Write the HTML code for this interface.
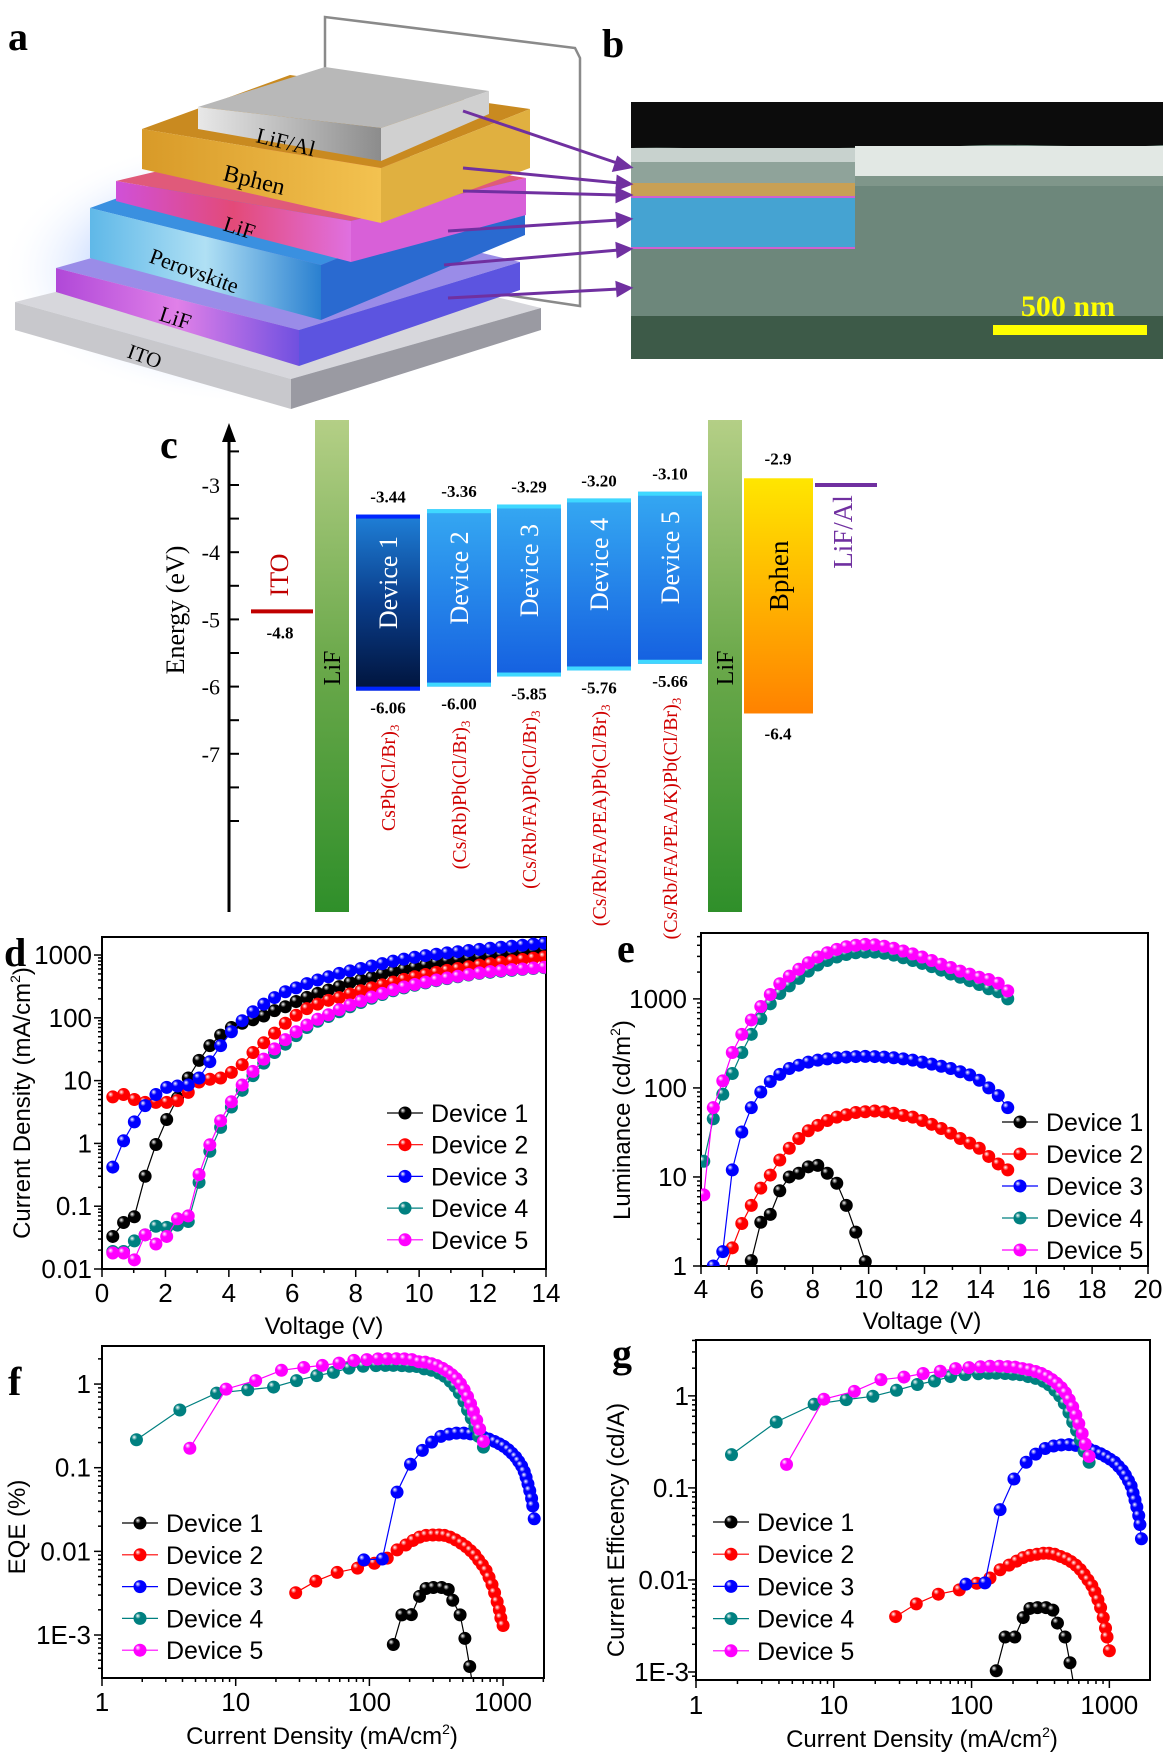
<!DOCTYPE html>
<html><head><meta charset="utf-8">
<style>
html,body{margin:0;padding:0;background:#fff;}
svg{display:block;}
text{font-family:"Liberation Sans",sans-serif;}
.serif{font-family:"Liberation Serif",serif;}
</style></head>
<body>
<svg id="fig" xmlns="http://www.w3.org/2000/svg" width="1170" height="1755" viewBox="0 0 1170 1755">
<defs>
<radialGradient id="glow" cx="50%" cy="50%" r="50%"><stop offset="0" stop-color="#3a6cff" stop-opacity="0.85"/><stop offset="0.6" stop-color="#6a9cff" stop-opacity="0.35"/><stop offset="1" stop-color="#ffffff" stop-opacity="0"/></radialGradient>
<linearGradient id="lifg" x1="0" y1="0" x2="0" y2="1"><stop offset="0" stop-color="#b4cf86"/><stop offset="0.5" stop-color="#6aa84a"/><stop offset="1" stop-color="#2f8f2a"/></linearGradient>
<linearGradient id="dev1g" x1="0" y1="0" x2="0" y2="1"><stop offset="0" stop-color="#1f80d8"/><stop offset="0.5" stop-color="#0a3d8a"/><stop offset="1" stop-color="#01143c"/></linearGradient>
<linearGradient id="devg" x1="0" y1="0" x2="0" y2="1"><stop offset="0" stop-color="#35a8f2"/><stop offset="1" stop-color="#1560e0"/></linearGradient>
<linearGradient id="bphg" x1="0" y1="0" x2="0" y2="1"><stop offset="0" stop-color="#ffe600"/><stop offset="1" stop-color="#ff8200"/></linearGradient>
<linearGradient id="alg" x1="0" y1="0" x2="1" y2="0"><stop offset="0" stop-color="#e8e8e8"/><stop offset="1" stop-color="#8c8c8c"/></linearGradient>
<linearGradient id="bphenf" x1="0" y1="0" x2="1" y2="0"><stop offset="0" stop-color="#d89a28"/><stop offset="1" stop-color="#f3c250"/></linearGradient>
<linearGradient id="liff" x1="0" y1="0" x2="1" y2="0"><stop offset="0" stop-color="#d050d8"/><stop offset="0.5" stop-color="#e34a78"/><stop offset="1" stop-color="#e070e0"/></linearGradient>
<linearGradient id="perf" x1="0" y1="0" x2="1" y2="0"><stop offset="0" stop-color="#5fb8e8"/><stop offset="0.5" stop-color="#b0e0f4"/><stop offset="1" stop-color="#2a80d0"/></linearGradient>
<linearGradient id="lif2f" x1="0" y1="0" x2="1" y2="0"><stop offset="0" stop-color="#b048d8"/><stop offset="0.5" stop-color="#e080e8"/><stop offset="1" stop-color="#7050e0"/></linearGradient>
</defs>

<!-- Panel a -->
<g>
<text class="serif" x="8" y="50" font-size="40" font-weight="bold">a</text>
<ellipse cx="260" cy="270" rx="260" ry="135" fill="url(#glow)"/>
<polyline points="325,106 325,17 575,48 580,58 580,306 466,289" fill="none" stroke="#8a8a8a" stroke-width="2.5"/>
<g>
<polygon points="15,302 291,379 541,308 265,240" fill="#d7d7dc"/>
<polygon points="15,302 291,379 291,409 15,330" fill="#c8c8cc"/>
<polygon points="291,379 541,308 541,330 291,409" fill="#9a9aa2"/>
</g>
<g>
<polygon points="56,268 299,330 520,262 280,205" fill="#9a8ce8"/>
<polygon points="56,268 299,330 299,366 56,292" fill="url(#lif2f)"/>
<polygon points="299,330 520,262 520,290 299,366" fill="#5c54e0"/>
</g>
<g>
<polygon points="90,208 321,265 525,182 300,132" fill="#3a90e0"/>
<polygon points="90,208 321,265 321,320 90,258" fill="url(#perf)"/>
<polygon points="321,265 525,182 525,235 321,320" fill="#2a6ad0"/>
</g>
<g>
<polygon points="116,181 351,221 526,178 290,140" fill="#e05a7a"/>
<polygon points="116,181 351,221 351,262 116,201" fill="url(#liff)"/>
<polygon points="351,221 526,178 526,215 351,262" fill="#d860d8"/>
</g>
<g>
<polygon points="142,129 381,168 530,109 290,75" fill="#c98a20"/>
<polygon points="142,129 381,168 381,223 142,169" fill="url(#bphenf)"/>
<polygon points="381,168 530,109 530,168 381,223" fill="#e0b040"/>
</g>
<g>
<polygon points="198,107 325,67 489,91 381,128" fill="#b8b8b8"/>
<polygon points="198,107 381,128 381,161 198,129" fill="url(#alg)"/>
<polygon points="381,128 489,91 489,114 381,161" fill="#d0d0d0"/>
</g>
<text class="serif" x="255" y="142" font-size="22" transform="rotate(14 255 142)">LiF/Al</text>
<text class="serif" x="222" y="180" font-size="24" transform="rotate(14 222 180)">Bphen</text>
<text class="serif" x="222" y="230" font-size="22" transform="rotate(18 222 230)">LiF</text>
<text class="serif" x="148" y="262" font-size="22" transform="rotate(20 148 262)">Perovskite</text>
<text class="serif" x="158" y="320" font-size="22" transform="rotate(18 158 320)">LiF</text>
<text class="serif" x="126" y="357" font-size="21" transform="rotate(20 126 357)">ITO</text>
</g>

<!-- Panel b -->
<g>
<text class="serif" x="602" y="57" font-size="40" font-weight="bold">b</text>
<rect x="631" y="102" width="532" height="257" fill="#6d877b"/>
<path d="M631,102 H1163 V145 C1100,150 1020,142 960,146 C900,150 860,145 800,150 C740,152 690,146 631,148 Z" fill="#0c0c0c"/>
<rect x="631" y="148" width="224" height="14" fill="#c8d2ce"/>
<rect x="855" y="146" width="308" height="30" fill="#e2e8e4"/>
<rect x="631" y="162" width="224" height="21" fill="#8fa39a"/>
<rect x="855" y="176" width="308" height="10" fill="#7f968a"/>
<rect x="631" y="183" width="224" height="13" fill="#c8a055"/>
<rect x="631" y="196" width="224" height="2" fill="#d060d0"/>
<rect x="631" y="198" width="224" height="50" fill="#45a3d2"/>
<rect x="631" y="247" width="224" height="2" fill="#d060d0"/>
<rect x="631" y="316" width="532" height="43" fill="#3d5a48"/>
<rect x="993" y="325" width="154" height="10" fill="#ffff00"/>
<text class="serif" x="1068" y="316" font-size="30" font-weight="bold" fill="#ffff00" text-anchor="middle">500 nm</text>
</g>
<g stroke="#7030a0" stroke-width="3" fill="#7030a0">
<line x1="463" y1="111" x2="620" y2="164"/><polygon points="630,167 614,170 618,158"/>
<line x1="463" y1="168" x2="619" y2="183"/><polygon points="630,184 617,189 618,177"/>
<line x1="463" y1="191" x2="619" y2="195"/><polygon points="630,195 617,201 617,189"/>
<line x1="448" y1="231" x2="619" y2="220"/><polygon points="630,219 618,226 617,214"/>
<line x1="444" y1="265" x2="619" y2="250"/><polygon points="630,249 618,256 617,244"/>
<line x1="448" y1="298" x2="619" y2="289"/><polygon points="630,288 618,295 617,283"/>
</g>

<!-- Panel c -->
<g id="panelC">
<text class="serif" x="160" y="458" font-size="40" font-weight="bold">c</text>
</g>

<g id="panelD"></g>
<g id="panelE"></g>
<g id="panelF"></g>
<g id="panelG"></g>
</svg>

<script>
// ---------- Panel c data ----------
const cLevels = [[-3.44,-6.06],[-3.36,-6.00],[-3.29,-5.85],[-3.20,-5.76],[-3.10,-5.66]];
const cTopLabels = ['-3.44','-3.36','-3.29','-3.20','-3.10'];
const cBotLabels = ['-6.06','-6.00','-5.85','-5.76','-5.66'];
const cFormulas = ['CsPb(Cl/Br)','(Cs/Rb)Pb(Cl/Br)','(Cs/Rb/FA)Pb(Cl/Br)','(Cs/Rb/FA/PEA)Pb(Cl/Br)','(Cs/Rb/FA/PEA/K)Pb(Cl/Br)'];
const cTicks = [-3,-4,-5,-6,-7];
const cBphen = [-2.9,-6.4];
const cITO = -4.88;
const cAl = -3.0;

// ---------- Panel d data (J-V) ----------
const dVolt = [0.34,0.68,1.02,1.36,1.70,2.04,2.38,2.72,3.06,3.40,3.74,4.08,4.42,4.76,5.10,5.44,5.78,6.12,6.46,6.80,7.14,7.48,7.82,8.16,8.50,8.84,9.18,9.52,9.86,10.20,10.54,10.88,11.22,11.56,11.90,12.24,12.58,12.92,13.26,13.60,13.94];
const dDev1 = [0.033,0.055,0.068,0.3,0.96,2.4,5.3,11,21,36,53,70,82,93,107,130,150,182,212,245,277,314,364,400,436,500,543,590,636,686,750,790,830,870,910,950,990,1050,1100,1150,1200];
const dDev2 = [5.5,6,5,4.5,4.5,4.5,4.8,6.5,9.5,10.5,11,13.5,18,28,40,57,82,110,140,165,190,210,240,270,300,335,370,410,450,490,530,570,610,650,690,730,770,810,850,890,930];
const dDev3 = [0.42,1.1,2.2,4,6,7.8,8.2,8.5,11,20,36,60,90,125,165,210,260,300,350,400,450,510,560,610,670,730,800,860,920,980,1030,1080,1130,1180,1230,1280,1330,1380,1430,1490,1550];
const dDev4 = [0.019,0.019,0.028,0.035,0.048,0.046,0.05,0.057,0.24,0.75,1.8,3.8,7,12,19,28,38,52,70,88,105,125,150,175,205,235,270,300,330,360,390,420,450,480,510,530,550,570,590,610,630];
const dDev5 = [0.018,0.018,0.014,0.035,0.025,0.033,0.063,0.07,0.32,0.95,2.3,4.6,8.5,14,22,32,45,60,77,95,112,135,160,185,215,245,280,310,340,370,400,430,460,490,520,545,565,585,600,620,640];
const dXTicks = [0,2,4,6,8,10,12,14];
const dYTicks = ['0.01','0.1','1','10','100','1000'];

// ---------- Panel e data (L-V) ----------
const eVolt = [4.10,4.44,4.78,5.12,5.46,5.80,6.14,6.48,6.82,7.16,7.50,7.84,8.18,8.52,8.86,9.20,9.54,9.88,10.22,10.56,10.90,11.24,11.58,11.92,12.26,12.60,12.94,13.28,13.62,13.96,14.30,14.64,14.98];
const eDev1 = [1.15,3.1,3.8,7,10,11,13,13.5,11,8.5,4.8,2.4,1.12];
const eDev2 = [0.8,1.6,3,4.8,7.5,10.5,15.5,21,27,33,38,43,47,50,53,54,55,54,52,49,47,43,39,35,31,27,24,21,17,14,12];
const eDev3 = [1.0,1.45,12,32,60,90,118,142,165,180,195,205,212,218,222,225,226,225,222,218,212,205,195,185,175,165,152,140,122,100,82,60];
const eDev4 = [15,45,85,145,250,400,600,880,1150,1400,1700,2050,2400,2700,2950,3150,3300,3350,3350,3250,3100,2900,2700,2500,2300,2100,1900,1750,1600,1450,1300,1200,1000];
const eDev5 = [6.3,60,120,250,400,580,820,1120,1480,1800,2150,2550,2950,3300,3600,3850,4000,4100,4050,3900,3700,3450,3200,2950,2700,2450,2250,2050,1900,1750,1650,1500,1230];
const eXTicks = [4,6,8,10,12,14,16,18,20];
const eYTicks = ['1','10','100','1000'];

// ---------- Panel f / g data ----------
const fJ1 = [151,175,206,237,265,301,347,389,420,477,518,563,589];
const fJ2 = [28.1,39.7,57.4,81.5,109,136,161,187,212,237,265,298,332,365,402,442,486,528,571,615,656,700,746,785,826,864,903,938,962,1000];
const fJ3 = [90.9,125,161,203,249,292,342,394,448,509,571,640,713,785,864,938,1013,1094,1165,1242,1307,1376,1439,1486,1535,1583,1634,1667,1709];
const fJ4 = [1.81,3.82,7.2,12.3,19.2,28.5,40.4,53.8,70.4,89.8,112,132,151,175,199,226,257,292,332,365,402,436,471,509,542,578,616,656,713];
const fJ5 = [4.54,8.47,14.1,22,32.3,44.5,59.3,76.5,95.7,116,136,159,183,208,234,262,292,321,353,384,415,448,480,511,542,571,600,635,668,713];
const fEQE1 = [0.00077,0.00174,0.00175,0.0029,0.0036,0.0037,0.0037,0.0035,0.0026,0.00174,0.00091,0.00042,0.00026];
const fEQE2 = [0.0032,0.0044,0.0056,0.0063,0.0072,0.0083,0.0104,0.0119,0.0135,0.0148,0.0155,0.0157,0.0157,0.0155,0.0148,0.0137,0.0125,0.0114,0.0102,0.0091,0.0079,0.0069,0.0059,0.0049,0.004,0.0032,0.0025,0.002,0.0016,0.0013];
const fEQE3 = [0.0079,0.0081,0.051,0.11,0.161,0.202,0.237,0.252,0.259,0.259,0.254,0.245,0.232,0.22,0.206,0.193,0.18,0.164,0.149,0.134,0.119,0.105,0.09,0.077,0.064,0.053,0.043,0.035,0.0245];
const fEQE4 = [0.216,0.49,0.78,0.855,0.92,1.1,1.26,1.38,1.55,1.63,1.66,1.67,1.67,1.66,1.63,1.62,1.52,1.46,1.35,1.24,1.08,0.94,0.78,0.62,0.49,0.39,0.31,0.237,0.176];
const fEQE5 = [0.171,0.87,1.1,1.46,1.58,1.67,1.78,1.92,1.96,2.0,2.01,2.01,2.0,1.96,1.85,1.83,1.75,1.66,1.54,1.42,1.29,1.16,1.01,0.855,0.71,0.58,0.47,0.37,0.29,0.206];
const gCE1 = [0.00103,0.0024,0.0024,0.0039,0.0049,0.005,0.005,0.0047,0.0034,0.0024,0.00126,0.0006,0.0004];
const gCE2 = [0.004,0.0055,0.007,0.0078,0.0092,0.0105,0.0129,0.0145,0.016,0.0175,0.0185,0.019,0.0195,0.0195,0.019,0.018,0.017,0.0158,0.0145,0.013,0.0115,0.01,0.0087,0.0074,0.0061,0.005,0.0039,0.003,0.0024,0.0017];
const gCE3 = [0.009,0.0093,0.058,0.125,0.19,0.233,0.268,0.285,0.293,0.295,0.29,0.28,0.265,0.25,0.235,0.22,0.205,0.19,0.172,0.155,0.138,0.12,0.105,0.088,0.074,0.062,0.05,0.04,0.028];
const gCE4 = [0.23,0.52,0.81,0.91,0.99,1.15,1.33,1.45,1.62,1.70,1.74,1.76,1.76,1.75,1.72,1.70,1.62,1.55,1.44,1.32,1.15,1.0,0.83,0.66,0.52,0.42,0.33,0.25,0.19];
const gCE5 = [0.18,0.92,1.12,1.5,1.6,1.75,1.85,1.98,2.03,2.07,2.1,2.1,2.08,2.05,1.98,1.92,1.84,1.75,1.63,1.5,1.37,1.23,1.08,0.91,0.76,0.62,0.5,0.39,0.3,0.22];
const logXTicks = ['1','10','100','1000'];
const fYTicks = ['1E-3','0.01','0.1','1'];
const deviceNames = ['Device 1','Device 2','Device 3','Device 4','Device 5'];
const deviceColors = ['#000000','#ff0000','#0000ff','#008080','#ff00ff'];

const NS = 'http://www.w3.org/2000/svg';
function mk(tag, parent){ const e = document.createElementNS(NS, tag); parent.appendChild(e); return e; }
function attr(e, o){ for (const k in o) e.setAttribute(k, o[k]); return e; }

const defs = document.querySelector('defs');
deviceColors.forEach((c, i) => {
  const g = attr(mk('radialGradient', defs), {id:'mk'+i, cx:'38%', cy:'36%', r:'62%', fx:'32%', fy:'30%'});
  attr(mk('stop', g), {offset:'0', 'stop-color':'#ffffff'});
  attr(mk('stop', g), {offset:'0.35', 'stop-color':c});
  attr(mk('stop', g), {offset:'1', 'stop-color': c, 'stop-opacity':'1'});
});

// ---------- Panel c drawing ----------
(function(){
  const P = document.getElementById('panelC');
  const yE = E => 485 + (-3 - E) * 67.2;
  const ax = attr(mk('line', P), {x1:229, y1:436, x2:229, y2:912, stroke:'#000', 'stroke-width':3});
  
  
  const ah = attr(mk('polygon', P), {points:'229,423 222,442 236,442', fill:'#000'});
  
  
  for (let E = -2.5; E >= -8.01; E -= 0.5) {
    const t = attr(mk('line', P), {x1:229, y1:yE(E), x2:239, y2:yE(E), stroke:'#000', 'stroke-width':2});
    
    
  }
  cTicks.forEach(E => {
    const t = attr(mk('text', P), {x:220, y:yE(E)+8, 'font-size':22, 'text-anchor':'end', class:'serif'});
    t.textContent = String(E);
    
    
  });
  const et = attr(mk('text', P), {x:0, y:0, 'font-size':26, 'text-anchor':'middle', class:'serif', transform:'translate(184 610) rotate(-90)'});
  et.textContent = 'Energy (eV)';
  
  
  const ito = attr(mk('line', P), {x1:251, y1:yE(cITO), x2:313, y2:yE(cITO), stroke:'#c00000', 'stroke-width':4});
  
  
  const itot = attr(mk('text', P), {x:0, y:0, 'font-size':26, 'text-anchor':'middle', fill:'#c00000', class:'serif', transform:'translate(288 575) rotate(-90)'});
  itot.textContent = 'ITO';
  
  
  const itov = attr(mk('text', P), {x:280, y:yE(cITO)+27, 'font-size':17, 'font-weight':'bold', 'text-anchor':'middle', class:'serif'});
  itov.textContent = '-4.8';
  
  
  [[315,'lif-bar-left'],[708,'lif-bar-right']].forEach(([x, n]) => {
    const r = attr(mk('rect', P), {x:x, y:420, width:34, height:492, fill:'url(#lifg)'});
    
    
    const t = attr(mk('text', P), {x:0, y:0, 'font-size':24, 'text-anchor':'middle', class:'serif', transform:'translate('+(x+25)+' 668) rotate(-90)'});
    t.textContent = 'LiF';
    
    
  });
  const xs = [356,427,497,567,638];
  cLevels.forEach((lv, i) => {
    const x = xs[i], w = 64, y1 = yE(lv[0]), y2 = yE(lv[1]);
    const r = attr(mk('rect', P), {x:x, y:y1, width:w, height:y2-y1, fill: i===0 ? 'url(#dev1g)' : 'url(#devg)'});
    
    
    const bc = i===0 ? '#0026ff' : '#3fd8ff';
    attr(mk('rect', P), {x:x, y:y1, width:w, height:4, fill:bc});
    attr(mk('rect', P), {x:x, y:y2-4, width:w, height:4, fill:bc});
    const dt = attr(mk('text', P), {x:0, y:0, 'font-size':26, 'text-anchor':'middle', fill:'#fff', class:'serif', transform:'translate('+(x+w/2+9)+' '+((y1+y2)/2 - 20)+') rotate(-90)'});
    dt.textContent = deviceNames[i];
    
    
    const tl = attr(mk('text', P), {x:x+w/2, y:y1-12, 'font-size':17, 'font-weight':'bold', 'text-anchor':'middle', class:'serif'});
    tl.textContent = cTopLabels[i];
    
    
    const bl = attr(mk('text', P), {x:x+w/2, y:y2+23, 'font-size':17, 'font-weight':'bold', 'text-anchor':'middle', class:'serif'});
    bl.textContent = cBotLabels[i];
    
    
    const ft = attr(mk('text', P), {x:0, y:0, 'font-size':20, 'text-anchor':'end', fill:'#d00000', class:'serif', transform:'translate('+(x+w/2+7)+' '+(y2+34)+') rotate(-90)'});
    ft.textContent = cFormulas[i];
    const sub = attr(mk('tspan', ft), {'font-size':13, dy:4});
    sub.textContent = '3';
    
    
  });
  const by1 = yE(cBphen[0]), by2 = yE(cBphen[1]);
  const br = attr(mk('rect', P), {x:744, y:by1, width:69, height:by2-by1, fill:'url(#bphg)'});
  
  
  const bt = attr(mk('text', P), {x:0, y:0, 'font-size':27, 'text-anchor':'middle', class:'serif', transform:'translate(788 '+((by1+by2)/2 - 20)+') rotate(-90)'});
  bt.textContent = 'Bphen';
  
  
  const bv1 = attr(mk('text', P), {x:778, y:by1-14, 'font-size':17, 'font-weight':'bold', 'text-anchor':'middle', class:'serif'});
  bv1.textContent = '-2.9';
  
  
  const bv2 = attr(mk('text', P), {x:778, y:by2+26, 'font-size':17, 'font-weight':'bold', 'text-anchor':'middle', class:'serif'});
  bv2.textContent = '-6.4';
  
  
  const al = attr(mk('line', P), {x1:815, y1:yE(cAl), x2:877, y2:yE(cAl), stroke:'#7030a0', 'stroke-width':4});
  
  
  const alt = attr(mk('text', P), {x:0, y:0, 'font-size':27, 'text-anchor':'middle', fill:'#7030a0', class:'serif', transform:'translate(852 532) rotate(-90)'});
  alt.textContent = 'LiF/Al';
  
  
})();

// ---------- generic chart ----------
function chart(id, cfg, xsArr, ysArr) {
  const P = document.getElementById(id);
  const {L, R, T, B} = cfg;
  const X = v => L + (cfg.xlog ? (Math.log10(v) - cfg.x0) : (v - cfg.x0)) / (cfg.x1 - cfg.x0) * (R - L);
  const Y = v => B - (Math.log10(v) - cfg.y0) / (cfg.y1 - cfg.y0) * (B - T);
  const clipId = 'clip' + id;
  const cp = attr(mk('clipPath', P), {id:clipId});
  attr(mk('rect', cp), {x:L, y:T, width:R-L, height:B-T});
  const fr = attr(mk('rect', P), {x:L, y:T, width:R-L, height:B-T, fill:'none', stroke:'#000', 'stroke-width':2});
  
  
  for (let d = Math.floor(cfg.y0); d <= Math.ceil(cfg.y1); d++) {
    for (let m = 1; m <= 9; m++) {
      const lv = d + Math.log10(m);
      if (lv < cfg.y0 - 1e-6 || lv > cfg.y1 + 1e-6) continue;
      const y = Y(Math.pow(10, lv));
      const tk = attr(mk('line', P), {x1:L, x2:L-(m===1?8:4), y1:y, y2:y, stroke:'#000', 'stroke-width':1.5});
      
      
    }
  }
  cfg.yLabels.forEach(s => {
    const v = parseFloat(s);
    const t = attr(mk('text', P), {x:cfg.yLabX, y:Y(v)+9, 'font-size':26, 'text-anchor':'end'});
    t.textContent = s;
    
    
  });
  if (cfg.xlog) {
    for (let d = Math.floor(cfg.x0); d <= Math.ceil(cfg.x1); d++) {
      for (let m = 1; m <= 9; m++) {
        const lv = d + Math.log10(m);
        if (lv < cfg.x0 - 1e-6 || lv > cfg.x1 + 1e-6) continue;
        const x = X(Math.pow(10, lv));
        const tk = attr(mk('line', P), {x1:x, x2:x, y1:B, y2:B+(m===1?8:4), stroke:'#000', 'stroke-width':1.5});
        
        
      }
    }
  } else {
    for (let v = cfg.x0; v <= cfg.x1 + 1e-6; v += 1) {
      const x = X(v);
      const tk = attr(mk('line', P), {x1:x, x2:x, y1:B, y2:B+((v - cfg.x0) % 2 === 0 ? 8 : 4), stroke:'#000', 'stroke-width':1.5});
      
      
    }
  }
  cfg.xLabels.forEach(s => {
    const t = attr(mk('text', P), {x:X(parseFloat(s)), y:cfg.xLabY, 'font-size':26, 'text-anchor':'middle'});
    t.textContent = s;
    
    
  });
  const xt = attr(mk('text', P), {x:cfg.xTitleX, y:cfg.xTitleY, 'font-size':24, 'text-anchor':'middle'});
  xt.textContent = cfg.xTitle;
  if (cfg.xSup) { const s = attr(mk('tspan', xt), {'font-size':14, dy:-10}); s.textContent = '2'; const s2 = attr(mk('tspan', xt), {dy:10}); s2.textContent = ')'; }
  
  
  const yt = attr(mk('text', P), {x:0, y:0, 'font-size':24, 'text-anchor':'middle', transform:'translate('+cfg.yTitleX+' '+cfg.yTitleY+') rotate(-90)'});
  yt.textContent = cfg.yTitle;
  if (cfg.ySup) { const s = attr(mk('tspan', yt), {'font-size':14, dy:-10}); s.textContent = '2'; const s2 = attr(mk('tspan', yt), {dy:10}); s2.textContent = ')'; }
  
  
  const pl = attr(mk('text', P), {x:cfg.labX, y:cfg.labY, 'font-size':40, 'font-weight':'bold', class:'serif'});
  pl.textContent = cfg.label;
  
  
  const sg = attr(mk('g', P), {'clip-path':'url(#'+clipId+')'});
  
  
  ysArr.forEach((ys, i) => {
    const xs = xsArr[i];
    const pts = ys.map((v, k) => X(xs[k]).toFixed(1) + ',' + Y(v).toFixed(1)).join(' ');
    const ln = attr(mk('polyline', sg), {points:pts, fill:'none', stroke:deviceColors[i], 'stroke-width':1.2});
    
    
    ys.forEach((v, k) => {
      const c = attr(mk('circle', sg), {cx:X(xs[k]), cy:Y(v), r:6.5, fill:'url(#mk'+i+')'});
      
      
    });
  });
  deviceNames.forEach((n, i) => {
    const y = cfg.legY + i * cfg.legDy;
    const lg = mk('g', P);
    
    
    attr(mk('line', lg), {x1:cfg.legX, x2:cfg.legX+36, y1:y, y2:y, stroke:deviceColors[i], 'stroke-width':1.2});
    attr(mk('circle', lg), {cx:cfg.legX+18, cy:y, r:6.5, fill:'url(#mk'+i+')'});
    const t = attr(mk('text', lg), {x:cfg.legX+44, y:y+9, 'font-size':25});
    t.textContent = n;
  });
}

chart('panelD', {L:102, R:546, T:937, B:1269, xlog:false, x0:0, x1:14, y0:-2, y1:3.287,
  yLabels:dYTicks, yLabX:92, xLabels:dXTicks.map(String), xLabY:1302,
  xTitle:'Voltage (V)', xTitleX:324, xTitleY:1334, yTitle:'Current Density (mA/cm', ySup:true, yTitleX:30, yTitleY:1103,
  label:'d', labX:4, labY:966, legX:387, legY:1113, legDy:31.7},
  [dVolt,dVolt,dVolt,dVolt,dVolt], [dDev1,dDev2,dDev3,dDev4,dDev5]);

chart('panelE', {L:701, R:1148, T:933, B:1266, xlog:false, x0:4, x1:20, y0:0, y1:3.74,
  yLabels:eYTicks, yLabX:687, xLabels:eXTicks.map(String), xLabY:1298,
  xTitle:'Voltage (V)', xTitleX:922, xTitleY:1329, yTitle:'Luminance (cd/m', ySup:true, yTitleX:630, yTitleY:1120,
  label:'e', labX:617, labY:962, legX:1002, legY:1122, legDy:32},
  [eVolt.slice(5,18), eVolt.slice(2), eVolt.slice(1), eVolt, eVolt], [eDev1,eDev2,eDev3,eDev4,eDev5]);

chart('panelF', {L:102, R:544, T:1346, B:1678, xlog:true, x0:0, x1:3.306, y0:-3.514, y1:0.455,
  yLabels:fYTicks, yLabX:91, xLabels:logXTicks, xLabY:1711,
  xTitle:'Current Density (mA/cm', xSup:true, xTitleX:322, xTitleY:1744, yTitle:'EQE (%)', yTitleX:25, yTitleY:1527,
  label:'f', labX:8, labY:1395, legX:122, legY:1523, legDy:31.8},
  [fJ1,fJ2,fJ3,fJ4,fJ5], [fEQE1,fEQE2,fEQE3,fEQE4,fEQE5]);

chart('panelG', {L:696, R:1150, T:1340, B:1680, xlog:true, x0:0, x1:3.295, y0:-3.087, y1:0.607,
  yLabels:fYTicks, yLabX:689, xLabels:logXTicks, xLabY:1714,
  xTitle:'Current Density (mA/cm', xSup:true, xTitleX:922, xTitleY:1747, yTitle:'Current Efficency (cd/A)', yTitleX:624, yTitleY:1530,
  label:'g', labX:612, labY:1367, legX:713, legY:1522, legDy:32.2},
  [fJ1,fJ2,fJ3,fJ4,fJ5], [gCE1,gCE2,gCE3,gCE4,gCE5]);
</script>
</body></html>
